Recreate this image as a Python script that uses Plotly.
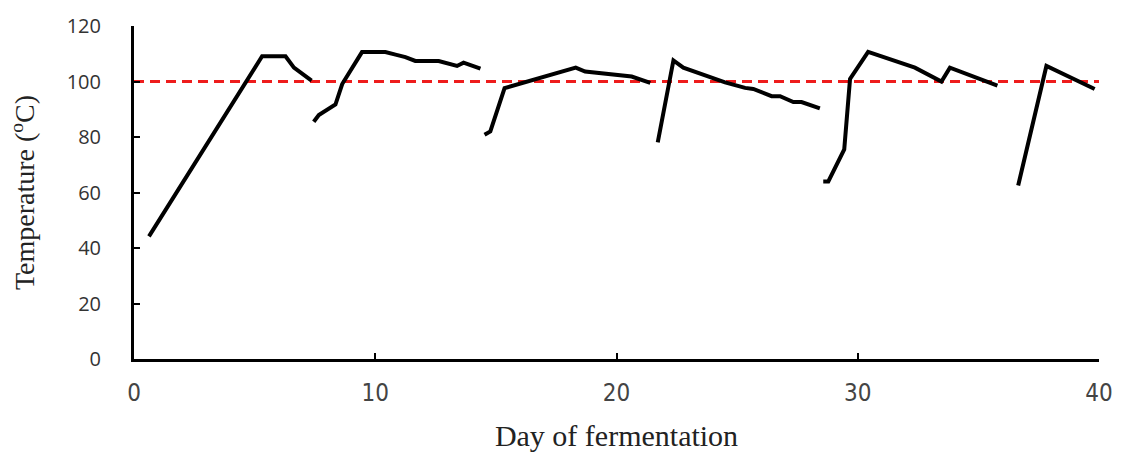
import plotly.graph_objects as go

# Temperature readings for each fermentation batch (day, °C)
batch1_day = [0.62, 5.31, 6.28, 6.63, 7.36]
batch1_temp = [44.2, 109.1, 109.1, 105.0, 100.3]

batch2_day = [7.45, 7.66, 8.35, 8.63, 9.45, 10.42, 10.84, 11.25, 11.66, 12.63, 13.39, 13.66, 14.36]
batch2_temp = [85.5, 87.9, 91.7, 99.1, 110.6, 110.6, 109.7, 108.8, 107.4, 107.4, 105.6, 106.8, 104.6]

batch3_day = [14.53, 14.77, 15.36, 18.31, 18.70, 19.39, 19.94, 20.63, 21.40]
batch3_temp = [80.8, 82.0, 97.6, 105.0, 103.6, 102.9, 102.7, 101.8, 99.5]

batch4_day = [21.71, 22.36, 22.77, 24.50, 25.33, 25.67, 26.43, 26.78, 27.33, 27.67, 28.43]
batch4_temp = [78.1, 107.6, 105.0, 99.7, 97.7, 97.3, 94.7, 94.7, 92.6, 92.6, 90.3]

batch5_day = [28.57, 28.78, 29.44, 29.68, 30.43, 32.37, 33.47, 33.82, 35.79]
batch5_temp = [64.0, 64.0, 75.5, 100.9, 110.7, 105.0, 100.0, 105.0, 98.5]

batch6_day = [36.65, 37.82, 39.82]
batch6_temp = [62.5, 105.6, 97.3]

batches = [
    (batch1_day, batch1_temp),
    (batch2_day, batch2_temp),
    (batch3_day, batch3_temp),
    (batch4_day, batch4_temp),
    (batch5_day, batch5_temp),
    (batch6_day, batch6_temp),
]

# Boiling point reference line
ref_day = [0, 40]
ref_temp = [100, 100]

x_ticks = [0, 10, 20, 30, 40]
y_ticks = [0, 20, 40, 60, 80, 100, 120]

fig = go.Figure()

fig.add_trace(go.Scatter(
    x=ref_day, y=ref_temp, mode="lines",
    line=dict(color="#ee1c1c", width=3, dash="10px,6px"),
    showlegend=False, hoverinfo="skip",
))

for d, t in batches:
    fig.add_trace(go.Scatter(
        x=d, y=t, mode="lines",
        line=dict(color="black", width=4),
        showlegend=False,
    ))

fig.update_layout(
    width=1125, height=461,
    margin=dict(l=134, r=24, t=21, b=102),
    plot_bgcolor="white", paper_bgcolor="white",
)

fig.update_xaxes(
    range=[0, 40], tickvals=x_ticks, ticktext=[str(v) for v in x_ticks],
    showline=True, linecolor="black", linewidth=3,
    ticks="inside", ticklen=6, tickwidth=2, tickcolor="black",
    showgrid=False, zeroline=False,
    tickfont=dict(family="DejaVu Sans Condensed", size=24, color="#444444", weight=200),
    ticklabelstandoff=10,
    title=dict(text="Day of fermentation",
               font=dict(family="Liberation Serif", size=30, color="#222222"),
               standoff=20),
)

fig.update_yaxes(
    range=[0, 120], tickvals=y_ticks, ticktext=[str(v) for v in y_ticks],
    showline=True, linecolor="black", linewidth=3,
    ticks="inside", ticklen=6, tickwidth=2, tickcolor="black",
    showgrid=False, zeroline=False,
    tickfont=dict(family="Open Sans", size=20, color="#333333"),
    ticklabelstandoff=26,
    title=dict(text="Temperature (<sup>o</sup>C)",
               font=dict(family="Liberation Serif", size=28, color="#222222"),
               standoff=24),
)

fig.write_html("out.html")
